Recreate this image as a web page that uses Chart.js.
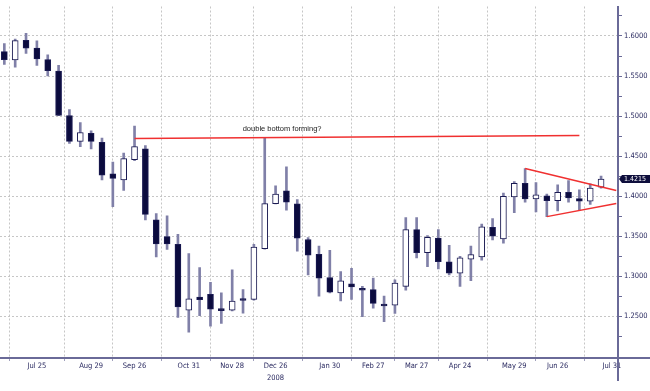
<!DOCTYPE html>
<html>
<head>
<meta charset="utf-8">
<script src="https://cdn.jsdelivr.net/npm/chart.js@4.4.1/dist/chart.umd.min.js"></script>
<style>
html,body{margin:0;padding:0;background:#fff;}
#wrap{width:650px;height:391px;}
</style>
</head>
<body>
<div id="wrap"><canvas id="c" width="650" height="391"></canvas></div>
<script>
// Weekly candles (Jul 4 ... Jul 24)
const opens  = [1.5804,1.5702,1.5947,1.5849,1.5706,1.5563,1.5008,1.4686,1.4784,1.4673,
                1.4281,1.4203,1.4457,1.4591,1.3705,1.3497,1.3399,1.2579,1.2742,1.2775,
                1.2591,1.2579,1.2715,1.2713,1.3345,1.3909,1.4068,1.3905,1.3461,1.3277,
                1.2987,1.2794,1.2909,1.2848,1.2836,1.2652,1.2640,1.2876,1.3583,1.3296,
                1.3477,1.3183,1.3039,1.3216,1.3244,1.3611,1.3468,1.3991,1.4163,1.3967,
                1.4007,1.3946,1.4049,1.3970,1.3938,1.4114];
const highs  = [1.5906,1.5960,1.6033,1.5939,1.5764,1.5633,1.5081,1.4918,1.4816,1.4726,
                1.4428,1.4539,1.4877,1.4632,1.3783,1.3755,1.3526,1.3284,1.3109,1.2925,
                1.2794,1.3081,1.2836,1.3399,1.4734,1.4130,1.4367,1.3958,1.3485,1.3379,
                1.3326,1.3060,1.3101,1.2876,1.2978,1.2754,1.2958,1.3734,1.3734,1.3510,
                1.3583,1.3387,1.3250,1.3379,1.3652,1.3722,1.4040,1.4183,1.4346,1.4171,
                1.4028,1.4142,1.4196,1.4080,1.4154,1.4252];
const lows   = [1.5645,1.5612,1.5783,1.5632,1.5501,1.5005,1.4661,1.4620,1.4591,1.4203,
                1.3869,1.4073,1.4444,1.3705,1.3244,1.3338,1.2488,1.2304,1.2509,1.2380,
                1.2414,1.2570,1.2542,1.2705,1.3340,1.3905,1.3828,1.3314,1.3020,1.2754,
                1.2795,1.2693,1.2713,1.2497,1.2603,1.2435,1.2537,1.2827,1.3232,1.3121,
                1.3093,1.3020,1.2876,1.2946,1.3203,1.3456,1.3415,1.3795,1.3926,1.3804,
                1.3746,1.3816,1.3926,1.3823,1.3897,1.4100];
const closes = [1.5706,1.5942,1.5849,1.5715,1.5568,1.5008,1.4686,1.4796,1.4686,1.4264,
                1.4224,1.4469,1.4620,1.3774,1.3407,1.3407,1.2619,1.2721,1.2709,1.2591,
                1.2574,1.2693,1.2700,1.3366,1.3909,1.4028,1.3926,1.3477,1.3265,1.2978,
                1.2803,1.2946,1.2868,1.2827,1.2664,1.2631,1.2917,1.3583,1.3296,1.3489,
                1.3183,1.3039,1.3232,1.3272,1.3620,1.3501,1.4000,1.4163,1.3967,1.4019,
                1.3946,1.4049,1.3979,1.3938,1.4101,1.4215];

// x-axis date ticks (week index -> label)
const xTickWeeks  = [3,8,12,17,21,25,30,34,38,42,47,51,56];
const xTickLabels = ['Jul 25','Aug 29','Sep 26','Oct 31','Nov 28',['Dec 26','2008'],'Jan 30','Feb 27','Mar 27','Apr 24','May 29','Jun 26','Jul 31'];

// y-axis ticks
const yMajorTicks = [1.25,1.30,1.35,1.40,1.45,1.50,1.55,1.60];
const yMinorTicks = [1.225,1.275,1.325,1.375,1.425,1.475,1.525,1.575,1.625];
const yTickLabels = ['1.2500','1.3000','1.3500','1.4000','1.4500','1.5000','1.5500','1.6000'];

// drawn annotations (week index, price)
const resistX = [12, 53];
const resistY = [1.4722, 1.4757];
const triUpperX = [48, 56.4];
const triUpperY = [1.4346, 1.4073];
const triLowerX = [50, 56.4];
const triLowerY = [1.3746, 1.3909];
const noteText = 'double bottom forming?';
const noteX = 25.6, noteY = 1.4836;
const lastPrice = 1.4215;

const FONT = "'Liberation Sans Narrow','DejaVu Sans Condensed','Liberation Sans',sans-serif";
const AXIS = '#6a6a98';
const LABEL = '#2a2a60';
const GRID = '#c6c6c6';

const idx = opens.map((_, i) => i);
const bodyData = idx.map(i => ({x: i, y: [Math.min(opens[i], closes[i]), Math.max(opens[i], closes[i])]}));
const wickData = idx.map(i => ({x: i, y: [lows[i], highs[i]]}));
const bodyColors = idx.map(i => closes[i] >= opens[i] ? '#ffffff' : '#0b0b3e');

const pts = (xs, ys) => xs.map((x, i) => ({x: x, y: ys[i]}));
const isMajor = v => Math.abs(v * 20 - Math.round(v * 20)) < 1e-6;

const extras = {
  id: 'extras',
  afterDatasetsDraw(chart) {
    const {ctx, scales: {x, y}} = chart;
    ctx.save();
    ctx.font = "7.5px 'Liberation Sans','DejaVu Sans',sans-serif";
    ctx.fillStyle = '#222';
    ctx.textAlign = 'center';
    ctx.textBaseline = 'middle';
    ctx.fillText(noteText, x.getPixelForValue(noteX), y.getPixelForValue(noteY));
    ctx.restore();
  },
  afterDraw(chart) {
    const {ctx, chartArea: a, scales: {y}} = chart;
    ctx.save();
    ctx.strokeStyle = AXIS;
    ctx.lineWidth = 2;
    ctx.beginPath();
    ctx.moveTo(a.right, a.bottom); ctx.lineTo(a.right, 381);
    ctx.moveTo(a.right, a.bottom); ctx.lineTo(650, a.bottom);
    ctx.stroke();
    const py = Math.round(y.getPixelForValue(lastPrice));
    ctx.fillStyle = '#0e0e3c';
    ctx.beginPath();
    ctx.moveTo(a.right + 1, py);
    ctx.lineTo(a.right + 4, py - 4);
    ctx.lineTo(650, py - 4);
    ctx.lineTo(650, py + 4);
    ctx.lineTo(a.right + 4, py + 4);
    ctx.closePath();
    ctx.fill();
    ctx.fillStyle = '#ffffff';
    ctx.font = '7px ' + FONT;
    ctx.textAlign = 'left';
    ctx.textBaseline = 'middle';
    ctx.fillText(lastPrice.toFixed(4), a.right + 6, py + 0.5);
    ctx.restore();
  }
};

new Chart(document.getElementById('c'), {
  type: 'bar',
  data: {
    datasets: [
      {type: 'line', data: pts(resistX, resistY), borderColor: '#f03030', borderWidth: 1.5, pointRadius: 0, order: 0},
      {type: 'line', data: pts(triUpperX, triUpperY), borderColor: '#f03030', borderWidth: 1.5, pointRadius: 0, order: 0},
      {type: 'line', data: pts(triLowerX, triLowerY), borderColor: '#f03030', borderWidth: 1.5, pointRadius: 0, order: 0},
      {type: 'bar', data: bodyData, backgroundColor: bodyColors, borderColor: '#1a1a52', borderWidth: 1,
       borderSkipped: false, barThickness: 6, grouped: false, minBarLength: 2, order: 1},
      {type: 'bar', data: wickData, backgroundColor: '#8080a8', borderWidth: 0,
       barThickness: 2, grouped: false, order: 2}
    ]
  },
  options: {
    responsive: false,
    animation: false,
    events: [],
    layout: {padding: 0},
    plugins: {legend: {display: false}, tooltip: {enabled: false}},
    scales: {
      x: {
        type: 'linear', min: -0.4, max: 56.56, offset: false,
        afterBuildTicks: s => { s.ticks = xTickWeeks.map(v => ({value: v})); },
        afterFit: s => { s.height = 33; },
        ticks: {
          autoSkip: false, maxRotation: 0, minRotation: 0, padding: -1,
          color: LABEL, font: {family: FONT, size: 7.5, lineHeight: 1.6},
          callback: (v, i) => xTickLabels[i]
        },
        grid: {color: GRID, lineWidth: 1, tickLength: 3, tickColor: '#a0a0bc'},
        border: {color: AXIS, width: 2, dash: [2, 2]}
      },
      y: {
        type: 'linear', position: 'right', min: 1.1982, max: 1.6368,
        afterBuildTicks: s => {
          s.ticks = yMajorTicks.concat(yMinorTicks).sort((a, b) => a - b).map(v => ({value: v}));
        },
        afterFit: s => { s.width = 32; },
        ticks: {
          padding: 2, color: LABEL, font: {family: FONT, size: 7.5},
          callback: v => {
            if (!isMajor(v)) return '';
            const k = yMajorTicks.findIndex(m => Math.abs(m - v) < 1e-6);
            return k >= 0 ? yTickLabels[k] : '';
          }
        },
        grid: {
          color: c => (c.tick && isMajor(c.tick.value)) ? GRID : 'rgba(0,0,0,0)',
          lineWidth: 1, tickLength: 4, tickColor: AXIS
        },
        border: {color: AXIS, width: 2, dash: [2, 2]}
      }
    }
  },
  plugins: [extras]
});
</script>
</body>
</html>
